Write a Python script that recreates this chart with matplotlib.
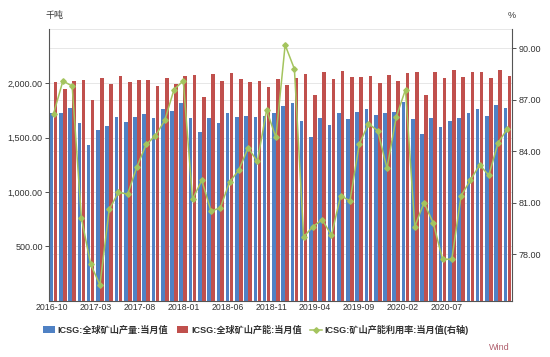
import numpy as np
import matplotlib
matplotlib.use("Agg")
import matplotlib.pyplot as plt
from matplotlib.lines import Line2D
from matplotlib.patches import Patch

plt.rcParams['font.family'] = ['Liberation Sans', 'Noto Sans CJK SC', 'DejaVu Sans']

months = [f"{y}-{m:02d}" for y, m in
          [(2016 + (9 + i) // 12, (9 + i) % 12 + 1) for i in range(50)]]

production = [1731, 1722, 1777, 1634, 1435, 1570, 1609, 1692, 1640, 1692,
              1717, 1680, 1759, 1744, 1817, 1685, 1548, 1680, 1637, 1726,
              1692, 1698, 1692, 1701, 1731, 1790, 1820, 1655, 1508, 1683,
              1619, 1726, 1671, 1735, 1765, 1707, 1729, 1738, 1832, 1674,
              1536, 1683, 1594, 1652, 1683, 1729, 1759, 1695, 1799, 1768]

capacity = [2013, 1951, 2022, 2031, 1848, 2052, 1992, 2068, 2013, 2031,
            2031, 1976, 2052, 1992, 2068, 2074, 1878, 2089, 2022, 2098,
            2040, 2016, 2025, 1970, 2040, 1983, 2053, 2089, 1896, 2102,
            2043, 2116, 2059, 2059, 2065, 2004, 2080, 2019, 2095, 2102,
            1894, 2107, 2047, 2123, 2061, 2102, 2107, 2049, 2126, 2065]

utilization = [86.2, 88.1, 87.8, 80.1, 77.4, 76.2, 80.6, 81.6, 81.5, 83.1,
               84.4, 84.9, 85.8, 87.6, 88.1, 81.2, 82.3, 80.5, 80.7, 82.2,
               82.9, 84.2, 83.4, 86.4, 84.8, 90.2, 88.8, 79.0, 79.6, 80.0,
               79.1, 81.4, 81.1, 84.4, 85.6, 85.2, 83.0, 86.0, 87.6, 79.6,
               81.0, 79.8, 77.7, 77.7, 81.4, 82.3, 83.2, 82.6, 84.5, 85.3]

tick_labels = ["2016-10", "2017-03", "2017-08", "2018-01", "2018-06",
               "2018-11", "2019-04", "2019-09", "2020-02", "2020-07"]

left_ticks = [500, 1000, 1500, 2000]
left_tick_labels = ["500.00", "1,000.00", "1,500.00", "2,000.00"]
right_ticks = [78, 81, 84, 87, 90]
right_tick_labels = ["78.00", "81.00", "84.00", "87.00", "90.00"]

series_names = ["ICSG:全球矿山产量:当月值", "ICSG:全球矿山产能:当月值",
                "ICSG:矿山产能利用率:当月值(右轴)"]

BLUE = '#4F81C4'
RED = '#C0504D'
GREEN = '#A4C45E'
TXT = '#333333'
GRID = '#E3E3E3'

fig = plt.figure(figsize=(5.5, 3.57), dpi=100)
ax = fig.add_axes([49/550, 1 - 300.5/357, (512-49)/550, (300.5-29)/357])
ax2 = ax.twinx()

x = np.arange(len(months))
w = 0.39
ax.bar(x - 0.215, production, width=w, color=BLUE, zorder=2)
ax.bar(x + 0.215, capacity, width=w, color=RED, zorder=2)
ax2.plot(x, utilization, color=GREEN, lw=1.1, marker='D', ms=2.8,
         markerfacecolor=GREEN, markeredgecolor=GREEN, zorder=3)

ax.set_xlim(-0.5, len(months) - 0.5)
ax.set_ylim(0, 2500)
ax2.set_ylim(75.29, 91.13)

ax.set_yticks(left_ticks)
ax.set_yticklabels(left_tick_labels)
ax2.set_yticks(right_ticks)
ax2.set_yticklabels(right_tick_labels)

tick_pos = -0.2 + 4.74 * np.arange(len(tick_labels))
ax.set_xticks(tick_pos)
ax.set_xticklabels(tick_labels)

for a in (ax, ax2):
    for s in a.spines.values():
        s.set_visible(False)

ax.spines['left'].set_visible(True)
ax.spines['left'].set_color('#555555')
ax.spines['left'].set_linewidth(0.8)
ax2.spines['right'].set_visible(True)
ax2.spines['right'].set_color('#555555')
ax2.spines['right'].set_linewidth(0.8)
ax.spines['bottom'].set_visible(True)
ax.spines['bottom'].set_color('#555555')
ax.spines['bottom'].set_linewidth(0.8)

ax.tick_params(axis='y', labelsize=6.5, colors=TXT, length=3, width=0.6, pad=1.5)
ax2.tick_params(axis='y', labelsize=6.5, colors=TXT, length=3, width=0.6, pad=1.5)
ax.tick_params(axis='x', labelsize=6.3, colors=TXT, length=0, pad=1.5)

for v in [500, 1000, 1500, 2000, 2500]:
    ax.axhline(v, color=GRID, lw=0.6, zorder=0)
for v in right_ticks:
    ax.axhline((v - 75.29) / (91.13 - 75.29) * 2500, color=GRID, lw=0.6, zorder=0)
ax.set_axisbelow(True)

fig.text(45/550, 1 - 15.5/357, "千吨", fontsize=6.5, color=TXT, ha='left', va='center')
fig.text(512/550, 1 - 16/357, "%", fontsize=6.5, color=TXT, ha='center', va='center')

handles = [Patch(facecolor=BLUE, edgecolor='none'),
           Patch(facecolor=RED, edgecolor='none'),
           Line2D([0], [0], color=GREEN, lw=1.1, marker='D', ms=2.8)]
leg = fig.legend(handles, series_names, loc='center', ncol=3,
                 bbox_to_anchor=(256/550, 1 - 330/357), frameon=False,
                 prop={'size': 6.6, 'weight': 'bold'}, handlelength=1.3,
                 handleheight=0.8, handletextpad=0.3, columnspacing=0.9)
for t in leg.get_texts():
    t.set_color(TXT)

fig.text(499/550, 1 - 347/357, "Wind", fontsize=6.5, color='#B0606E',
         ha='center', va='center')

fig.savefig("out.png", dpi=100)
